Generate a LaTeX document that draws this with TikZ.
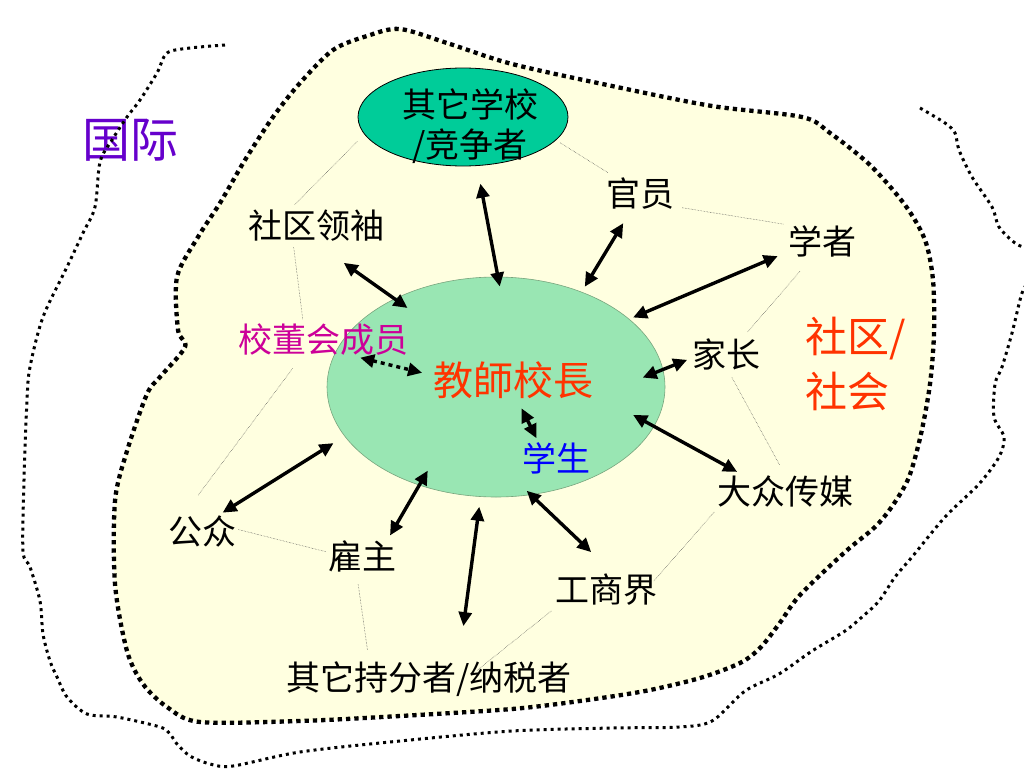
\documentclass[tikz,border=0pt]{standalone}
\usepackage{fontspec}
\newfontfamily\cjk{Noto Sans CJK SC}
\usetikzlibrary{arrows.meta,shapes.geometric}
\definecolor{pale}{RGB}{255,255,224}
\definecolor{mint}{RGB}{153,230,179}
\definecolor{mintline}{RGB}{120,165,125}
\definecolor{rivalfill}{RGB}{0,204,153}
\definecolor{flame}{RGB}{255,51,0}
\definecolor{plum}{RGB}{204,0,153}
\definecolor{worldink}{RGB}{102,0,204}
\begin{document}
\begin{tikzpicture}[x=1pt,y=-1pt,
  who/.style={font=\cjk\fontsize{34}{40}\selectfont,inner sep=0pt,text height=29pt,text depth=5pt},
  link/.style={{Triangle[length=14pt,width=13pt]}-{Triangle[length=14pt,width=13pt]},line width=3.4pt},
  tie/.style={line width=0.5pt,densely dotted,black!70}]
  \useasboundingbox (0,0) rectangle (1024,768);
  % community region
  \draw[fill=pale,line width=4.3pt,dash pattern=on 4.3pt off 4pt]
    plot[smooth cycle,tension=0.5] coordinates {(400,29) (450,44) (512,64) (612,86) (712,106) (802,117)
    (830,133) (870,165) (905,205) (925,240) (933,280) (934,333) (930,384) (921,434) (909,477) (893,505)
    (875,527) (845,552) (800,595) (779,624) (760,648) (740,663) (700,678) (645,691) (580,701) (512,709)
    (400,716) (300,721) (200,722) (167,707) (143,684) (127,651) (115,584) (115,501) (127,451) (147,394)
    (160,377) (185,347) (178,330) (177,277) (198,237) (220,203) (245,160) (273,117) (300,83) (333,50) (367,36)};
  \node[font=\cjk\fontsize{48}{54}\selectfont,text=worldink,inner sep=0pt] (world) at (130,140) {国际};
  % international region
  \draw[line width=3pt,dash pattern=on 3pt off 4pt]
    plot[smooth,tension=0.5] coordinates {(225,45) (190,48) (167,53) (157,73) (140,100) (127,117) (112,140)
    (100,162) (95,207) (83,233) (67,267) (43,317) (30,367) (27,400) (24,480) (23,551) (30,567) (40,601)
    (43,634) (50,661) (57,677) (67,697) (87,714) (117,717) (160,727) (170,734) (177,744) (190,756) (210,764)
    (233,766) (300,752) (400,741) (512,731) (612,728) (679,727) (712,721) (745,691) (779,674) (812,651)
    (845,631) (862,617) (879,601) (895,577) (912,557) (945,517) (979,484) (999,457) (1004,437) (994,417)
    (995,384) (1002,367) (1012,333) (1022,293) (1030,280)};
  \draw[line width=3pt,dash pattern=on 3pt off 4pt]
    plot[smooth,tension=0.5] coordinates {(920,108) (945,123) (955,133) (959,150) (972,177) (992,207)
    (999,227) (1015,243) (1030,250)};

  \node[ellipse,fill=mint,draw=mintline,line width=0.6pt,minimum width=338pt,minimum height=220pt,inner sep=0pt] (hub) at (496,387) {};
  \node[ellipse,fill=rivalfill,draw,line width=0.8pt,minimum width=210pt,minimum height=98pt,inner sep=0pt] (rival) at (463,117) {};
  \node[font=\cjk\fontsize{34}{40}\selectfont,align=center,inner sep=0pt] at (470,126) {其它学校\\/竞争者};

  \node[font=\cjk\fontsize{40}{46}\selectfont,text=flame,inner sep=0pt,text height=34pt,text depth=6pt] (head) at (513,381) {教師校長};
  \node[who,text=blue] (pupil) at (556,459) {学生};
  \node[who,text=plum] (board) at (323,340) {校董会成员};
  \node[who] (lead) at (316,226) {社区领袖};
  \node[who] (official) at (640,194) {官员};
  \node[who] (scholar) at (822,242) {学者};
  \node[who] (parent) at (726,355) {家长};
  \node[who] (media) at (785,492) {大众传媒};
  \node[who] (biz) at (606,590) {工商界};
  \node[who] (other) at (429,678) {其它持分者/纳税者};
  \node[who] (employer) at (362,557) {雇主};
  \node[who] (public) at (202,532) {公众};
  \node[font=\cjk\fontsize{42}{55}\selectfont,text=flame,align=left,inner sep=0pt,anchor=west] (comm) at (805,364) {社区/\\社会};

  % links to the principal
  \draw[link,shorten <=18pt,shorten >=-10pt] (rival.-74) -- (hub.89);
  \draw[link,shorten <=34pt,shorten >=-16pt] (lead.-90) -- (hub.139);
  \draw[link,shorten <=14pt,shorten >=6pt] (official.241) -- (hub.48);
  \draw[link,shorten <=11pt,shorten >=4pt] (scholar.196) -- (hub.27);
  \draw[link,shorten <=5pt,shorten >=-22pt] (parent.185) -- (hub.6);
  \draw[link,dash pattern=on 4pt off 4pt,shorten <=2pt,shorten >=11pt] (board.-26) -- (head.176);
  \draw[link,shorten <=8pt,shorten >=4pt] (head.-76) -- (pupil.136);
  \draw[link,shorten <=6pt,shorten >=-24pt] (media.158) -- (hub.-14);
  \draw[link,shorten <=30pt,shorten >=-6pt] (biz.68) -- (hub.-72);
  \draw[link,shorten <=35pt,shorten >=10pt] (other.30) -- (hub.-98);
  \draw[link,shorten <=5pt,shorten >=-17pt] (employer.34) -- (hub.232);
  \draw[link,shorten <=4pt,shorten >=13pt] (public.45) -- (hub.198);

  % thin ties
  \draw[tie,shorten <=10pt,shorten >=6pt] (rival.190) -- (lead.146);
  \draw[tie,shorten <=4pt,shorten >=3pt] (lead.217) -- (board.139);
  \draw[tie,shorten <=14pt,shorten >=24pt] (board.218) -- (public.137);
  \draw[tie,shorten <=5pt,shorten >=7pt] (rival.-14) -- (official.146);
  \draw[tie,shorten <=8pt,shorten >=4pt] (official.-20) -- (scholar.north west);
  \draw[tie,shorten <=16pt,shorten >=7pt] (scholar.236) -- (parent.46);
  \draw[tie,shorten <=6pt,shorten >=11pt] (parent.-80) -- (media.90);
  \draw[tie,shorten <=4pt,shorten >=-5pt] (media.194) -- (biz.14);
  \draw[tie,shorten <=6pt,shorten >=-16pt] (biz.199) -- (other.16);
  \draw[tie,shorten <=2pt,shorten >=1pt] (public.5) -- (employer.172);
  \draw[tie,shorten <=10pt,shorten >=10pt] (employer.253) -- (other.164);
\end{tikzpicture}
\end{document}
